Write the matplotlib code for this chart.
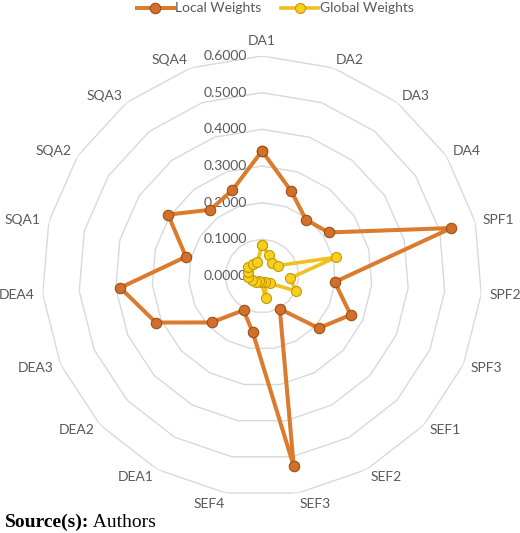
import numpy as np
import matplotlib
matplotlib.use("Agg")
import matplotlib.pyplot as plt
from matplotlib.lines import Line2D

categories = ["DA1", "DA2", "DA3", "DA4", "SPF1", "SPF2", "SPF3", "SEF1", "SEF2",
              "SEF3", "SEF4", "DEA1", "DEA2", "DEA3", "DEA4", "SQA1", "SQA2",
              "SQA3", "SQA4"]
local_weights = [0.341, 0.245, 0.195, 0.217, 0.533, 0.199, 0.264, 0.210, 0.102,
                 0.526, 0.155, 0.106, 0.187, 0.316, 0.388, 0.214, 0.306, 0.229, 0.248]
global_weights = [0.084, 0.060, 0.046, 0.052, 0.208, 0.076, 0.102, 0.030, 0.020,
                  0.062, 0.016, 0.016, 0.023, 0.030, 0.038, 0.040, 0.045, 0.042, 0.040]
ring_values = [0.0, 0.1, 0.2, 0.3, 0.4, 0.5, 0.6]
ring_labels = ["0.0000", "0.1000", "0.2000", "0.3000", "0.4000", "0.5000", "0.6000"]

plt.rcParams['font.family'] = ['Lato', 'DejaVu Sans']
gray = '#595959'

fig = plt.figure(figsize=(5.2, 5.33), dpi=100)
ax = fig.add_axes([42/520, 37/533, 440/520, 440/533], projection='polar')
ax.set_theta_offset(np.pi / 2)
ax.set_theta_direction(-1)

n = len(categories)
angles = np.linspace(0, 2 * np.pi, n, endpoint=False)
closed = np.concatenate([angles, angles[:1]])
rmax = ring_values[-1]

# polygon grid rings
for r in ring_values[1:]:
    ax.plot(closed, [r] * (n + 1), color='#D9D9D9', lw=1.0, zorder=1)

ax.grid(False)
ax.spines['polar'].set_visible(False)
ax.set_ylim(0, rmax)
ax.set_yticks([])
ax.set_xticks([])

# category labels placed just outside the outer ring vertices
d = 8
for ang, lab in zip(angles, categories):
    s, c = np.sin(ang), np.cos(ang)
    ha = 'left' if s > 0.05 else ('right' if s < -0.05 else 'center')
    va = 'bottom' if abs(s) < 0.05 and c > 0 else 'center'
    if abs(s) < 0.05 and c > 0:
        off = (0, 9)
    else:
        off = (d * s, d * c - (3 if c < -0.9 else 0))
    ax.annotate(lab, xy=(ang, rmax), xytext=off, textcoords='offset pixels',
                ha=ha, va=va, color=gray, fontsize=10, annotation_clip=False)

for r, lab in zip(ring_values, ring_labels):
    ax.annotate(lab, xy=(0, r), xytext=(-15, 0), textcoords='offset pixels',
                ha='right', va='center', color=gray, fontsize=10, zorder=2)

lv = local_weights + local_weights[:1]
gv = global_weights + global_weights[:1]
ax.plot(closed, lv, color='#DB7B2E', lw=2.9, marker='o', markersize=7.5,
        markerfacecolor='#D0702A', markeredgecolor='#9E4E12', markeredgewidth=0.8,
        zorder=3)
ax.plot(closed, gv, color='#F2C01E', lw=2.6, marker='o', markersize=7.2,
        markerfacecolor='#F6CF1F', markeredgecolor='#C49A00', markeredgewidth=0.8,
        zorder=4)

handles = [
    Line2D([0], [0], color='#DB7B2E', lw=2.9, marker='o', markersize=7.5,
           markerfacecolor='#D0702A', markeredgecolor='#9E4E12', markeredgewidth=0.8),
    Line2D([0], [0], color='#F2C01E', lw=2.6, marker='o', markersize=7.2,
           markerfacecolor='#F6CF1F', markeredgecolor='#C49A00', markeredgewidth=0.8),
]
leg = fig.legend(handles, ["Local Weights", "Global Weights"], loc='center',
                 bbox_to_anchor=(275/520, 1 - 8.5/533), ncol=2, frameon=False,
                 fontsize=10, handlelength=2.7, handletextpad=0.08,
                 columnspacing=1.4, borderpad=0, labelcolor=gray)

t1 = fig.text(5/520, 1 - 527/533, "Source(s):", family='Liberation Serif',
              fontweight='bold', fontsize=14, color='black', ha='left', va='baseline')
ax.annotate(" Authors", xy=(1, 0), xycoords=t1, va='bottom', ha='left',
            family='Liberation Serif', fontsize=14, color='black',
            annotation_clip=False)

fig.savefig("out.png", dpi=100)
